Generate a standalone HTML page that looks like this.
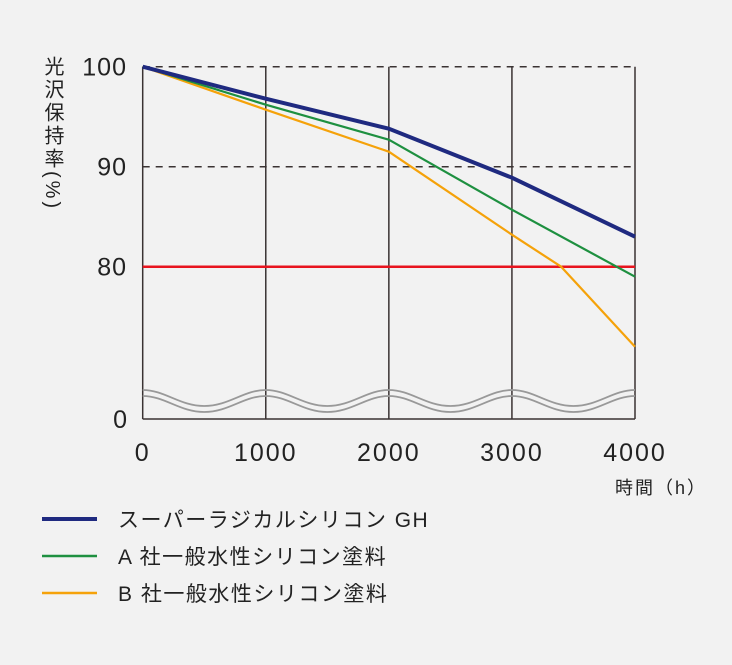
<!DOCTYPE html>
<html><head><meta charset="utf-8"><style>
body{margin:0;background:#f2f2f2;}
svg text{font-family:"Liberation Sans","Noto Sans CJK JP",sans-serif;fill:#222;}
</style></head><body>
<svg width="732" height="660" xmlns="http://www.w3.org/2000/svg">
<rect width="732" height="660" fill="#f2f2f2"/>
<g id="grid"></g>
<g id="lines"></g>
<g id="labels"></g>
<text x="52" y="56" font-size="20" style="writing-mode:vertical-rl;letter-spacing:3px">光沢保持率(%)</text>
<text x="615" y="494" font-size="18" letter-spacing="2">時間（h）</text>
<g>
<line x1="42" y1="519" x2="97" y2="519" stroke="#1f2a80" stroke-width="4"/>
<text x="118" y="527" font-size="21" letter-spacing="1.5">スーパーラジカルシリコン GH</text>
<line x1="42" y1="556" x2="97" y2="556" stroke="#1e9040" stroke-width="2.5"/>
<text x="118" y="564" font-size="21" letter-spacing="1.5">A 社一般水性シリコン塗料</text>
<line x1="42" y1="593" x2="97" y2="593" stroke="#f5a20a" stroke-width="2.5"/>
<text x="118" y="601" font-size="21" letter-spacing="1.5">B 社一般水性シリコン塗料</text>
</g>
</svg>
<script>
const xTicks=[0,1000,2000,3000,4000];
const yTicks=[100,90,80];
const navyX=[0,1000,2000,3000,4000];
const navyY=[100,96.8,93.8,88.9,83.0];
const greenX=[0,1000,2000,3000,4000];
const greenY=[100,96.2,92.7,85.7,79.0];
const orangeX=[0,1000,2000,3000,3400,4000];
const orangeY=[100,95.7,91.5,83.2,80,72.0];
const refLine=80;
const NS="http://www.w3.org/2000/svg";
const xs=v=>142.7+v*(635-142.7)/4000;
const ys=v=>266.7-(v-80)*10;
const Y0=419;
function mk(t,a,p){const e=document.createElementNS(NS,t);for(const k in a)e.setAttribute(k,a[k]);document.getElementById(p).appendChild(e);return e;}
xTicks.forEach(t=>{
 const l=mk('line',{x1:xs(t),x2:xs(t),y1:ys(100),y2:Y0,stroke:'#3a3333','stroke-width':1.5},'grid');
 
 
 const tx=mk('text',{x:xs(t),y:461,'font-size':25,'text-anchor':'middle','letter-spacing':2},'labels');tx.textContent=t;
 
 
});
[100,90].forEach(t=>{
 const l=mk('line',{x1:xs(0),x2:xs(4000),y1:ys(t),y2:ys(t),stroke:'#3a3333','stroke-width':1.5,'stroke-dasharray':'7,6'},'grid');
 
 
});
yTicks.forEach(t=>{
 const tx=mk('text',{x:127,y:ys(t)+9,'font-size':25,'text-anchor':'end','letter-spacing':1},'labels');tx.textContent=t;
 
 
});
const z=mk('text',{x:127,y:Y0+9,'font-size':25,'text-anchor':'end'},'labels');z.textContent='0';


const ax=mk('line',{x1:xs(0),x2:xs(4000),y1:Y0,y2:Y0,stroke:'#3a3333','stroke-width':1.5},'grid');


[0,6].forEach(o=>{
 let d='';const w=xs(1000)-xs(0);const t=390+o,b=406+o;
 for(let i=0;i<4;i++){const a=xs(0)+i*w;d+=(i?'':'M'+a+','+t)+' C'+(a+w*0.18)+','+t+' '+(a+w*0.3)+','+b+' '+(a+w/2)+','+b+' C'+(a+w*0.7)+','+b+' '+(a+w*0.82)+','+t+' '+(a+w)+','+t;}
 const p=mk('path',{d:d,fill:'none',stroke:'#999','stroke-width':1.8},'grid');
 
 
});
const r=mk('line',{x1:xs(0),x2:xs(4000),y1:ys(refLine),y2:ys(refLine),stroke:'#e8141e','stroke-width':2.5},'lines');


function series(X,Y,c,w,n){
 const p=mk('polyline',{points:X.map((x,i)=>xs(x)+','+ys(Y[i])).join(' '),fill:'none',stroke:c,'stroke-width':w,'stroke-linejoin':'round'},'lines');
 
 
}
series(orangeX,orangeY,'#f5a20a',2.2,'series-b-line');
series(greenX,greenY,'#1e9040',2.2,'series-a-line');
series(navyX,navyY,'#1f2a80',4,'series-gh-line');
</script>
</body></html>
